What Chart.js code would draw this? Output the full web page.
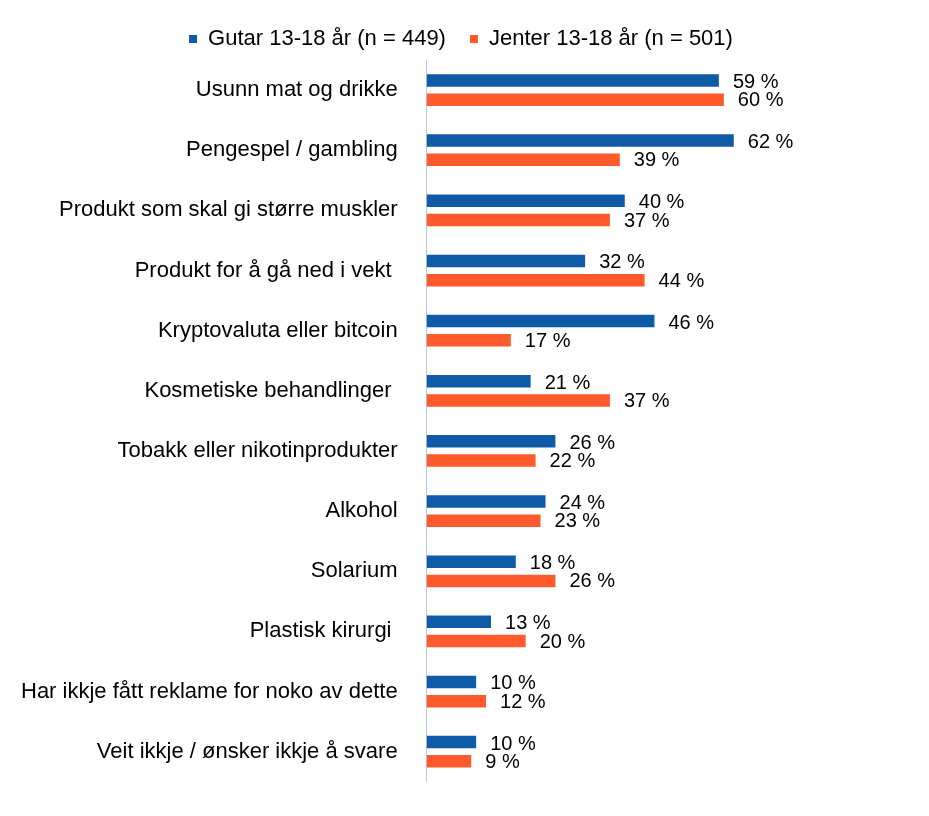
<!DOCTYPE html>
<html><head><meta charset="utf-8">
<script src="https://cdn.jsdelivr.net/npm/chart.js@4"></script>
<style>html,body{margin:0;padding:0;background:#fff;overflow:hidden}#w{width:929px;height:816px}</style>
</head><body><div id="w"><canvas id="c"></canvas></div>
<script>
const categories = ["Usunn mat og drikke","Pengespel / gambling","Produkt som skal gi større muskler","Produkt for å gå ned i vekt ","Kryptovaluta eller bitcoin","Kosmetiske behandlinger ","Tobakk eller nikotinprodukter","Alkohol","Solarium","Plastisk kirurgi ","Har ikkje fått reklame for noko av dette","Veit ikkje / ønsker ikkje å svare"];
const gutar = [59,62,40,32,46,21,26,24,18,13,10,10];
const jenter = [60,39,37,44,17,37,22,23,26,20,12,9];
const seriesNames = ["Gutar 13-18 år (n = 449)","Jenter 13-18 år (n = 501)"];
const FONT = "'Liberation Sans', Arial, sans-serif";
const labelPlugin = {
  id:'lbl',
  afterDatasetsDraw(chart){
    const ctx = chart.ctx;
    ctx.save();
    ctx.font = "20px " + FONT;
    ctx.fillStyle = "#000";
    ctx.textBaseline = "middle";
    chart.data.datasets.forEach((ds,di)=>{
      chart.getDatasetMeta(di).data.forEach((el,i)=>{
        ctx.fillText(ds.data[i] + " %", el.x + 14, el.y + (di===0 ? 2 : 1));
      });
    });
    ctx.restore();
  }
};
new Chart(document.getElementById('c'), {
  type:'bar',
  data:{labels:categories, datasets:[
    {label:seriesNames[0], data:gutar, backgroundColor:'#0F5BA7', categoryPercentage:0.64, barPercentage:0.65},
    {label:seriesNames[1], data:jenter, backgroundColor:'#FF5A2B', categoryPercentage:0.64, barPercentage:0.65}
  ]},
  options:{
    indexAxis:'y', responsive:true, maintainAspectRatio:false, animation:false,
    layout:{padding:{top:4,right:7,left:0,bottom:-28}},
    plugins:{
      legend:{position:'top', labels:{font:{size:22,family:FONT}, color:'#000', boxWidth:8, boxHeight:8, padding:24}},
      tooltip:{enabled:false}
    },
    scales:{
      x:{display:false, min:0, max:100},
      y:{grid:{display:false}, border:{color:'#B4C7E7', width:1},
         ticks:{font:{size:22,family:FONT}, color:'#000', padding:21}}
    }
  },
  plugins:[labelPlugin]
});
</script></body></html>
